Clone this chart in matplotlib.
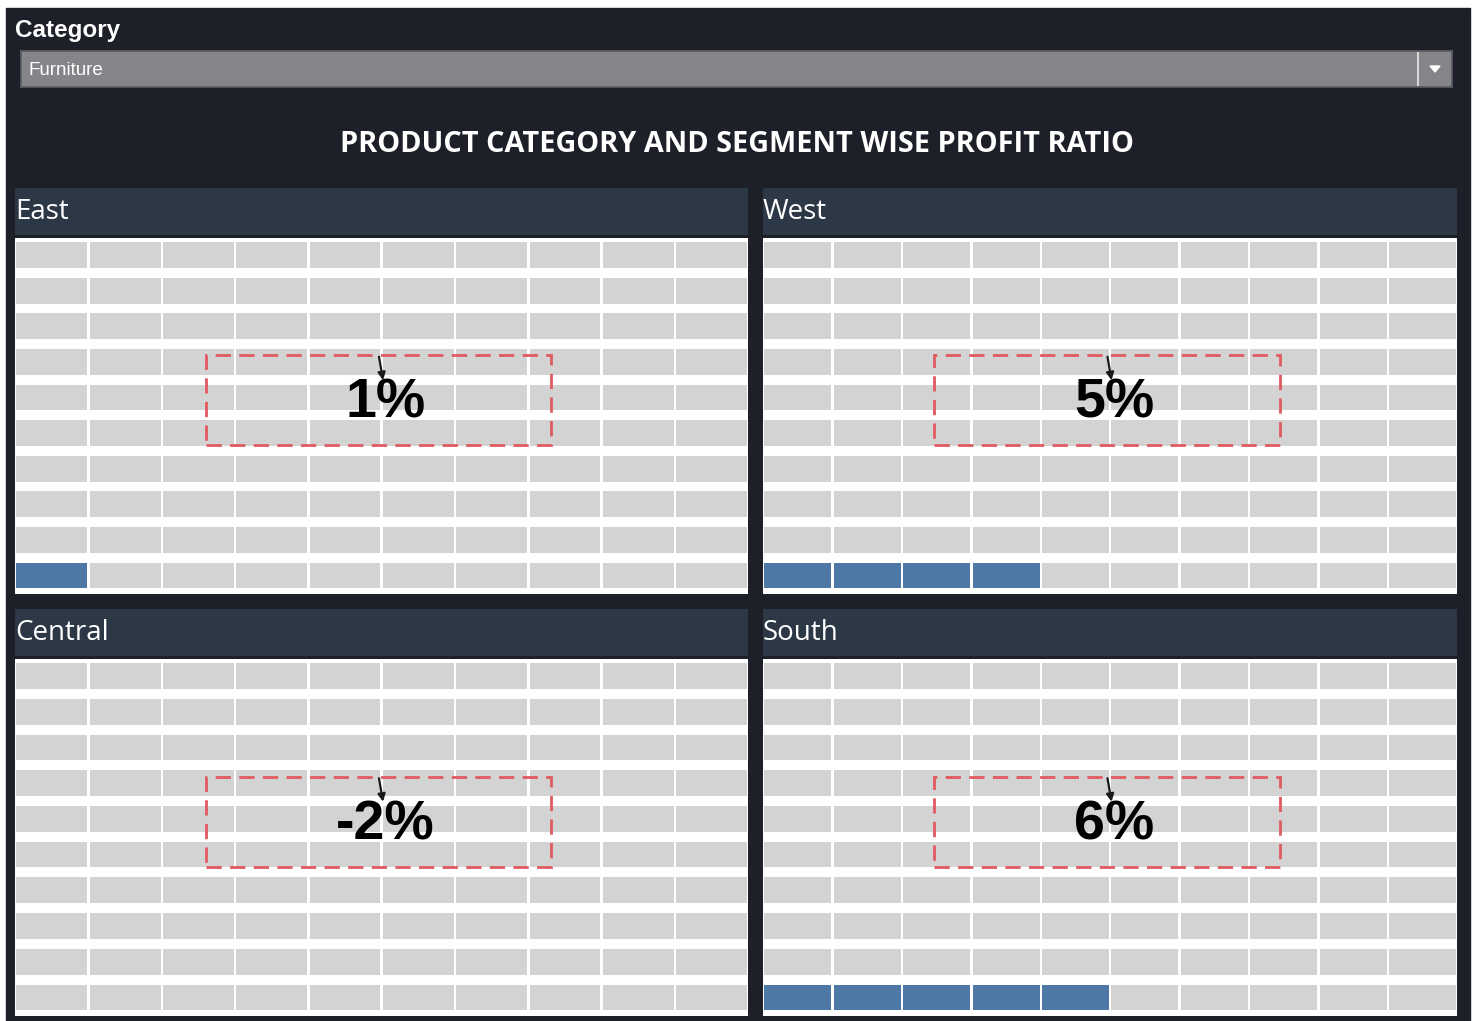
import numpy as np
import matplotlib
matplotlib.use("Agg")
import matplotlib.pyplot as plt
from matplotlib.patches import Rectangle

# data
regions = ["East", "West", "Central", "South"]
profit_pct = [1, 5, -2, 6]
filled_cells = [1, 4, 0, 5]
category = "Furniture"
title = "PRODUCT CATEGORY AND SEGMENT WISE PROFIT RATIO"

W, H = 1476, 1021
BG = "#1e2029"
HEADER = "#2c3846"
CELL = "#d3d3d3"
BLUE = "#4e79a7"
RED = "#e05a5f"

fig = plt.figure(figsize=(W / 100, H / 100), dpi=100, facecolor="white")


def px(x0, y0, x1, y1):
    return [x0 / W, 1 - y1 / H, (x1 - x0) / W, (y1 - y0) / H]


# dark dashboard background
fig.patches.append(Rectangle((6 / W, 0), (1470 - 6) / W, 1 - 8 / H,
                             transform=fig.transFigure, color=BG, zorder=-10))

# filter title + dropdown
fig.text(15 / W, 1 - 30 / H, "Category", color="white", fontsize=17.5,
         fontweight="bold", family="Liberation Sans", va="center")
dd = fig.add_axes(px(21, 51, 1452, 87))
dd.set_xlim(0, 1431)
dd.set_ylim(36, 0)
dd.set_facecolor("#858589")
dd.set_xticks([])
dd.set_yticks([])
for s in dd.spines.values():
    s.set_color("#5c5d62")
    s.set_linewidth(1.2)
dd.text(7, 19.5, category, color="white", fontsize=13.5, family="Liberation Sans",
        va="center")
dd.plot([1397, 1397], [2, 34], color="#d8d8d8", lw=1.5)
dd.fill([1409, 1419, 1414], [15, 15, 21], color="white")

fig.text(737 / W, 1 - 144 / H, title, color="white", fontsize=20.8,
         fontweight="bold", family="Open Sans", ha="center", va="center")

# panel positions in pixels: (x0, x1, header_top, header_bottom, grid_top, grid_bottom)
panels = [
    (15, 748, 188, 235, 238, 594),
    (763, 1457, 188, 235, 238, 594),
    (15, 748, 609, 656, 659, 1016),
    (763, 1457, 609, 656, 659, 1016),
]

for name, pct, n, (x0, x1, ht, hb, gt, gb) in zip(regions, profit_pct, filled_cells, panels):
    hax = fig.add_axes(px(x0, ht, x1, hb))
    hax.set_facecolor(HEADER)
    hax.set_xticks([])
    hax.set_yticks([])
    for s in hax.spines.values():
        s.set_visible(False)
    hax.text(0, 0.5, name, transform=hax.transAxes, color="white",
             fontsize=20, family="Open Sans", va="center", ha="left")

    ax = fig.add_axes(px(x0, gt, x1, gb))
    ax.set_facecolor("white")
    ax.set_xlim(0, 10)
    ax.set_ylim(0, 10)
    ax.set_xticks([])
    ax.set_yticks([])
    for s in ax.spines.values():
        s.set_visible(False)

    cols = np.arange(10)
    for r in range(10):
        idx = r * 10 + cols
        colors = [BLUE if i < n else CELL for i in idx]
        ax.bar(cols + 0.02, 0.72, width=0.965, bottom=r + 0.16, align="edge",
               color=colors, edgecolor="none")

    # label box (fixed pixel size, centred on the grid)
    gw, gh = x1 - x0, gb - gt
    bw, bh = 345 / gw, 90 / gh
    cx = 0.5 - 3 / gw
    cy = 0.5 + 16 / gh
    ax.add_patch(Rectangle((cx - bw / 2, cy - bh / 2), bw, bh, transform=ax.transAxes,
                           fill=False, edgecolor=RED, lw=2, ls=(0, (5.5, 3)), zorder=3))
    ax.text(cx + 7 / gw, cy - 4 / gh, f"{pct}%", transform=ax.transAxes, ha="center",
            va="center", fontsize=40, fontweight="bold", family="Liberation Sans",
            color="black", zorder=4)
    ax.annotate("", xy=(cx + 5 / gw, cy + (bh / 2) - 28 / gh),
                xytext=(cx, cy + bh / 2 + 1 / gh), xycoords="axes fraction",
                textcoords="axes fraction",
                arrowprops=dict(arrowstyle="-|>", color="#1a1a1a", lw=1.6,
                                mutation_scale=11), zorder=5)

fig.savefig("out.png", dpi=100, facecolor=fig.get_facecolor())
